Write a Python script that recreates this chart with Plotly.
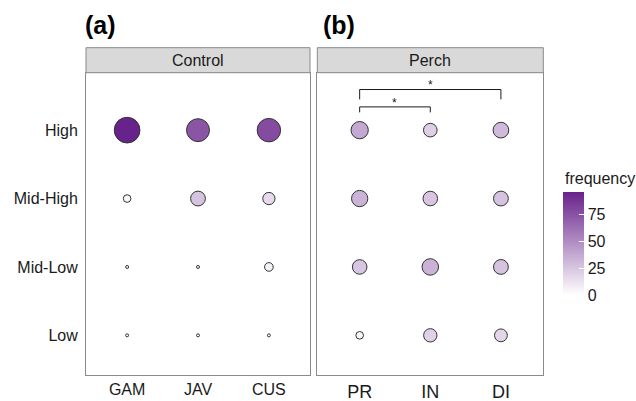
import plotly.graph_objects as go

levels = ["Low", "Mid-Low", "Mid-High", "High"]
control_groups = ["GAM", "JAV", "CUS"]
perch_groups = ["PR", "IN", "DI"]

# frequency (%) per group, ordered as `levels`
gam = [0, 0, 4, 96]
jav = [0, 0, 26, 74]
cus = [0, 6, 16, 78]
pr = [4, 25, 33, 38]
in_ = [20, 34, 25, 21]
di = [18, 26, 26, 30]

comparisons = [("PR", "IN", "*"), ("PR", "DI", "*")]

FMAX = 96
W, H = 636, 401
FONT = "Liberation Sans, Arial, sans-serif"
BORDER = "#8a8a8a"


def size_scale(v, lo=3.0, hi=25.7):
    return lo + (hi - lo) * (max(v, 0) / FMAX) ** 0.5


def long_form(groups, series):
    xs, ys, vs = [], [], []
    for g, vals in zip(groups, series):
        for lev, v in zip(levels, vals):
            xs.append(g)
            ys.append(lev)
            vs.append(v)
    return xs, ys, vs


fig = go.Figure()

for groups, series, xa, ya in [
    (control_groups, [gam, jav, cus], "x", "y"),
    (perch_groups, [pr, in_, di], "x2", "y2"),
]:
    xs, ys, vs = long_form(groups, series)
    fig.add_trace(go.Scatter(
        x=xs, y=ys, mode="markers", xaxis=xa, yaxis=ya,
        marker=dict(size=[size_scale(v) for v in vs], color=vs,
                    coloraxis="coloraxis",
                    line=dict(color="#333333", width=1), opacity=1),
        showlegend=False, hoverinfo="skip",
    ))

# px -> paper helpers for layout
def px_x(p):
    return p / W

def px_y(p):
    return 1 - p / H

panel_top, panel_bot = 72.7, 375
strip_top = 47.7
a_l, a_r = 86, 310
b_l, b_r = 317.3, 543.3

axis_common = dict(showgrid=False, zeroline=False, showline=True, mirror=True,
                   linecolor=BORDER, linewidth=1, ticks="",
                   tickfont=dict(family=FONT, size=16, color="#1a1a1a"),
                   fixedrange=True)

fig.update_layout(
    width=W, height=H, margin=dict(l=0, r=0, t=0, b=0),
    paper_bgcolor="white", plot_bgcolor="white",
    font=dict(family=FONT, color="#1a1a1a"),
    xaxis=dict(domain=[px_x(a_l), px_x(a_r)], type="category",
               categoryorder="array", categoryarray=control_groups,
               range=[-0.58, 2.58], anchor="y", **axis_common),
    yaxis=dict(domain=[px_y(panel_bot), px_y(panel_top)], type="category",
               categoryorder="array", categoryarray=levels,
               range=[-0.58, 3.84], anchor="x", ticklabelstandoff=4,
               **axis_common),
    xaxis2=dict(domain=[px_x(b_l), px_x(b_r)], type="category",
                categoryorder="array", categoryarray=perch_groups,
                range=[-0.6, 2.6], anchor="y2", **axis_common),
    yaxis2=dict(domain=[px_y(panel_bot), px_y(panel_top)], type="category",
                categoryorder="array", categoryarray=levels,
                range=[-0.58, 3.84], anchor="x2", showticklabels=False,
                **{k: v for k, v in axis_common.items()}),
    coloraxis=dict(
        colorscale=[[0, "#FFFFFF"], [1, "#68228B"]], cmin=0, cmax=FMAX,
        colorbar=dict(
            x=px_x(562.7), xanchor="left", y=px_y(243.7), yanchor="middle",
            thickness=21, thicknessmode="pixels", len=103, lenmode="pixels",
            xpad=0, ypad=0, outlinewidth=0,
            tickvals=[0, 25, 50, 75], ticks="inside", ticklen=5,
            tickcolor="white", tickwidth=1,
            tickfont=dict(family=FONT, size=16, color="#1a1a1a"),
            title=dict(text=""),
        ),
    ),
)
fig.update_xaxes(selector=dict(anchor="y2"))
fig.layout.xaxis2.tickfont.size = 18

shapes = []
annotations = []
for (l, r, lab) in [(a_l, a_r, "Control"), (b_l, b_r, "Perch")]:
    shapes.append(dict(type="rect", xref="paper", yref="paper",
                       x0=px_x(l), x1=px_x(r), y0=px_y(panel_top), y1=px_y(strip_top),
                       fillcolor="#D9D9D9", line=dict(color=BORDER, width=1)))
    annotations.append(dict(text=lab, xref="paper", yref="paper",
                            x=(px_x(l) + px_x(r)) / 2, y=px_y((panel_top + strip_top) / 2),
                            showarrow=False, font=dict(size=16, family=FONT, color="#1a1a1a"),
                            xanchor="center", yanchor="middle"))

for lab, xpx in [("(a)", 82.5), ("(b)", 320.5)]:
    annotations.append(dict(text="<b>%s</b>" % lab, xref="paper", yref="paper",
                            x=px_x(xpx), y=px_y(25), showarrow=False,
                            xanchor="left", yanchor="middle",
                            font=dict(size=25, family=FONT, color="black")))

annotations.append(dict(text="frequency", xref="paper", yref="paper",
                        x=px_x(563), y=px_y(178), showarrow=False,
                        xanchor="left", yanchor="middle",
                        font=dict(size=16, family=FONT, color="#1a1a1a")))

# significance brackets (panel b), levels as 0-based category positions
bracket_levels = [(3.34, 3.26, 3.404), (3.594, 3.45, 3.661)]
for (g1, g2, star), (ytop, ytip, ystar) in zip(comparisons, bracket_levels):
    i1, i2 = perch_groups.index(g1), perch_groups.index(g2)
    shapes.append(dict(type="path", xref="x2", yref="y2",
                       path="M %f,%f L %f,%f L %f,%f L %f,%f" % (i1, ytip, i1, ytop, i2, ytop, i2, ytip),
                       line=dict(color="#1a1a1a", width=1)))
    annotations.append(dict(text=star, xref="x2", yref="y2", x=(i1 + i2) / 2, y=ystar,
                            showarrow=False, xanchor="center", yanchor="middle",
                            font=dict(size=12, family=FONT, color="#1a1a1a")))

fig.update_layout(shapes=shapes, annotations=annotations)
fig.write_html("out.html")
